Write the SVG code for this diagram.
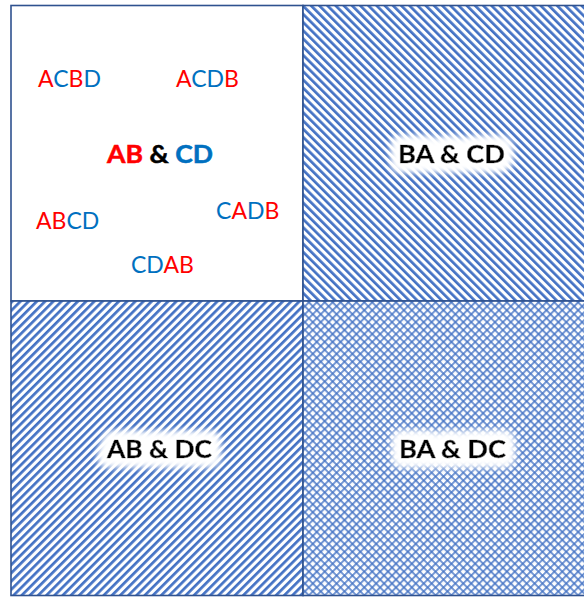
<svg xmlns="http://www.w3.org/2000/svg" width="584" height="597" viewBox="0 0 584 597">
<style>
.cell{stroke:#2F528F;stroke-width:1.6}
.lbl{font-family:Lato,"Open Sans","Liberation Sans",sans-serif;font-size:23px}
.b{font-weight:700;font-size:25px;stroke-width:0.5}
.r{fill:#FF0000}
.u{fill:#0070C0}
.k{fill:#000000}
.b .r{stroke:#FF0000}
.b .u{stroke:#0070C0}
.b .k,.b.k{stroke:#000000}
</style>
<defs>
<pattern id="hatchDown" width="5.8" height="5.8" patternUnits="userSpaceOnUse" patternTransform="rotate(-45)">
<rect width="5.8" height="5.8" fill="#fff"/>
<rect x="0" y="0" width="2.7" height="5.8" fill="#4472C4"/>
</pattern>
<pattern id="hatchUp" width="5.8" height="5.8" patternUnits="userSpaceOnUse" patternTransform="rotate(45)">
<rect width="5.8" height="5.8" fill="#fff"/>
<rect x="0" y="0" width="2.7" height="5.8" fill="#4472C4"/>
</pattern>
<pattern id="cross" width="5.6" height="5.6" patternUnits="userSpaceOnUse" patternTransform="rotate(45)">
<rect width="5.6" height="5.6" fill="#fff"/>
<rect x="0" y="0" width="2" height="5.6" fill="#4472C4" fill-opacity="0.75"/>
<rect x="0" y="0" width="5.6" height="2" fill="#4472C4" fill-opacity="0.75"/>
</pattern>
<filter id="glow" x="-30%" y="-90%" width="160%" height="280%">
<feMorphology in="SourceAlpha" operator="dilate" radius="6" result="d"/>
<feGaussianBlur in="d" stdDeviation="4" result="bl"/>
<feFlood flood-color="#ffffff"/>
<feComposite in2="bl" operator="in" result="g"/>
<feMerge><feMergeNode in="g"/><feMergeNode in="g"/><feMergeNode in="g"/><feMergeNode in="SourceGraphic"/></feMerge>
</filter>
</defs>
<rect width="584" height="597" fill="#ffffff"/>
<g id="cell-ab-cd">
<rect class="cell" x="11" y="5.5" width="292" height="295.5" fill="#ffffff"/>
<text class="lbl" x="38" y="86.7"><tspan class="r">A</tspan><tspan class="u">C</tspan><tspan class="r">B</tspan><tspan class="u">D</tspan></text>
<text class="lbl" x="176" y="86.7"><tspan class="r">A</tspan><tspan class="u">CD</tspan><tspan class="r">B</tspan></text>
<text class="lbl b" x="107" y="162.5" textLength="106" lengthAdjust="spacingAndGlyphs"><tspan class="r">AB</tspan><tspan class="k"> &amp; </tspan><tspan class="u">CD</tspan></text>
<text class="lbl" x="216" y="219"><tspan class="u">C</tspan><tspan class="r">A</tspan><tspan class="u">D</tspan><tspan class="r">B</tspan></text>
<text class="lbl" x="36" y="229"><tspan class="r">AB</tspan><tspan class="u">CD</tspan></text>
<text class="lbl" x="131" y="273"><tspan class="u">CD</tspan><tspan class="r">AB</tspan></text>
</g>
<g id="cell-ba-cd">
<rect class="cell" x="303" y="5.5" width="293" height="295.5" fill="url(#hatchDown)"/>
<text class="lbl b k" x="398" y="162.5" textLength="107" lengthAdjust="spacingAndGlyphs" filter="url(#glow)">BA &amp; CD</text>
</g>
<g id="cell-ab-dc">
<rect class="cell" x="11" y="301" width="292" height="294.5" fill="url(#hatchUp)"/>
<text class="lbl b k" x="107" y="457.5" textLength="105" lengthAdjust="spacingAndGlyphs" filter="url(#glow)">AB &amp; DC</text>
</g>
<g id="cell-ba-dc">
<rect class="cell" x="303" y="301" width="293" height="294.5" fill="url(#cross)"/>
<text class="lbl b k" x="399" y="457.7" textLength="107" lengthAdjust="spacingAndGlyphs" filter="url(#glow)">BA &amp; DC</text>
</g>
</svg>
